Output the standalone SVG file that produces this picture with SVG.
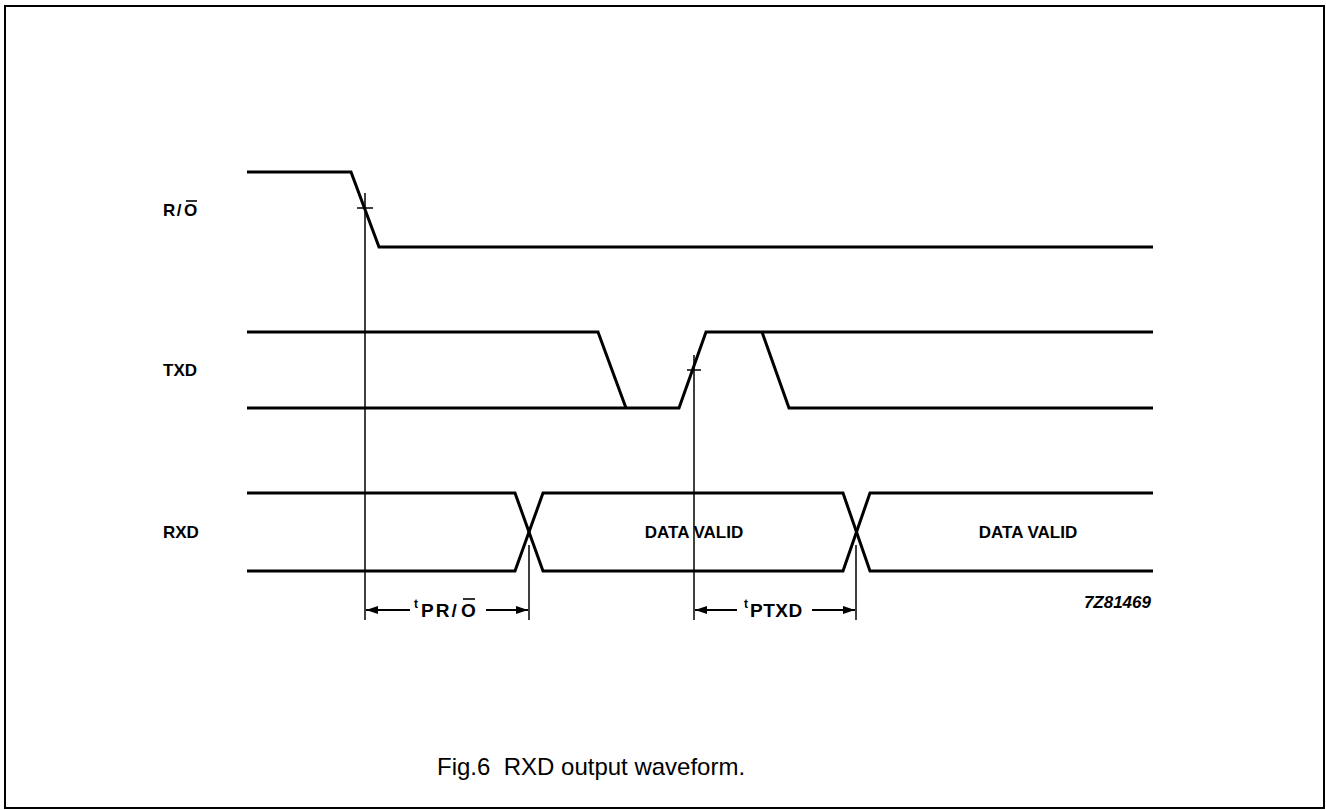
<svg xmlns="http://www.w3.org/2000/svg" width="1326" height="810" viewBox="0 0 1326 810">
<defs>
<style>
.wave{fill:none;stroke:#000;stroke-width:3;stroke-linejoin:miter}
.thin{fill:none;stroke:#000;stroke-width:1.5}
.dim{fill:none;stroke:#000;stroke-width:2}
.ovl{stroke:#000;stroke-width:1.6}
.lbl{font-family:"Liberation Sans",Arial,sans-serif;font-weight:bold;font-size:17px;fill:#000}
.dl{font-family:"Liberation Sans",Arial,sans-serif;font-weight:bold;font-size:19px;fill:#000}
.sup{font-family:"Liberation Sans",Arial,sans-serif;font-weight:bold;font-size:12px;fill:#000}
.cap{font-family:"Liberation Sans",Arial,sans-serif;font-size:24px;fill:#000}
</style>
<marker id="ah" viewBox="0 0 12 8" refX="12" refY="4" markerWidth="12" markerHeight="8" orient="auto" markerUnits="userSpaceOnUse">
<path d="M0,0 L12,4 L0,8 z" fill="#000"/>
</marker>
</defs>
<rect x="5" y="6" width="1319" height="802" fill="#fff" stroke="#000" stroke-width="2"/>

<g id="signal-ro">
<text class="lbl" x="163" y="216" letter-spacing="1.5">R/</text>
<text class="lbl" x="184" y="216">O</text>
<line class="ovl" x1="186" y1="201" x2="197" y2="201"/>
<polyline class="wave" points="247,172 351,172 379,247 1153,247"/>
<line class="thin" x1="357" y1="208" x2="373" y2="208"/>
</g>

<g id="signal-txd">
<text class="lbl" x="163" y="376">TXD</text>
<polyline class="wave" points="247,332 598,332 626,408"/>
<polyline class="wave" points="247,408 679,408 706,332 1153,332"/>
<polyline class="wave" points="762,332 789,408 1153,408"/>
<line class="thin" x1="687" y1="370" x2="701" y2="370"/>
</g>

<g id="signal-rxd">
<text class="lbl" x="163" y="538">RXD</text>
<polyline class="wave" points="247,493 515,493 543,571 843,571 870,493 1153,493"/>
<polyline class="wave" points="247,571 515,571 543,493 843,493 870,571 1153,571"/>
<text class="lbl" x="694" y="538" text-anchor="middle">DATA VALID</text>
<text class="lbl" x="1028" y="538" text-anchor="middle">DATA VALID</text>
</g>

<g id="connectors">
<line class="thin" x1="365" y1="193" x2="365" y2="620"/>
<line class="thin" x1="694" y1="355" x2="694" y2="620"/>
<line class="thin" x1="529" y1="545" x2="529" y2="620"/>
<line class="thin" x1="856" y1="545" x2="856" y2="620"/>
<line class="dim" x1="410" y1="610" x2="366" y2="610" marker-end="url(#ah)"/>
<line class="dim" x1="486" y1="610" x2="528" y2="610" marker-end="url(#ah)"/>
<line class="dim" x1="737" y1="610" x2="695" y2="610" marker-end="url(#ah)"/>
<line class="dim" x1="812" y1="610" x2="855" y2="610" marker-end="url(#ah)"/>
</g>

<g id="label-tpro">
<text class="sup" x="414" y="608">t</text>
<text class="dl" x="421" y="617" letter-spacing="2">PR/</text>
<text class="dl" x="461" y="617">O</text>
<line class="ovl" x1="463" y1="599" x2="475" y2="599"/>
</g>
<g id="label-tptxd">
<text class="sup" x="744" y="608">t</text>
<text class="dl" x="750" y="617" letter-spacing="0.5">PTXD</text>
</g>

<text class="lbl" x="1151" y="608" text-anchor="end" font-style="italic" font-size="14">7Z81469</text>

<text class="cap" x="437" y="775" xml:space="preserve">Fig.6  RXD output waveform.</text>
</svg>
